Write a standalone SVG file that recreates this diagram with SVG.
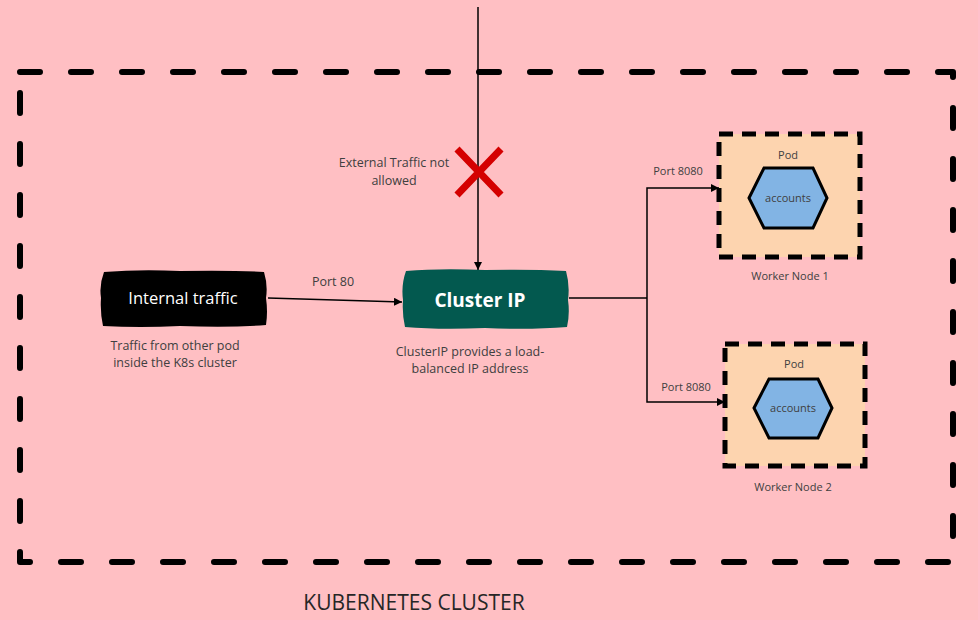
<svg xmlns="http://www.w3.org/2000/svg" width="978" height="620" viewBox="0 0 978 620">
  <defs>
    <style>
      .t{font-family:"Open Sans","Liberation Sans",sans-serif;fill:#404040;text-anchor:middle}
      .s13{font-size:12.5px}
      .s11{font-size:11px}
      .line{stroke:#000;stroke-width:1.5;fill:none}
      .wk{fill:#FDD4AF;stroke:#000;stroke-width:5;stroke-dasharray:14 9}
      .hex{fill:#82B4E4;stroke:#000;stroke-width:3;stroke-linejoin:miter}
    </style>
    <marker id="ah" viewBox="0 0 10 10" refX="10" refY="5" markerWidth="8" markerHeight="8" markerUnits="userSpaceOnUse" orient="auto">
      <path d="M0,0 L10,5 L0,10 z" fill="#000"/>
    </marker>
  </defs>
  <rect x="0" y="0" width="978" height="620" fill="#FFBFC3"/>

  <g id="cluster">
    <rect x="20" y="72" width="933" height="490" fill="none" stroke="#000" stroke-width="6" stroke-linecap="round" stroke-linejoin="round" stroke-dasharray="20 31"/>
    <text class="t" x="414" y="610" style="font-size:21px;fill:#262626">KUBERNETES CLUSTER</text>
  </g>

  <g id="connectors">
    <line class="line" x1="478" y1="7" x2="478" y2="270" marker-end="url(#ah)"/>
    <line class="line" x1="268" y1="298" x2="402" y2="302" marker-end="url(#ah)"/>
    <polyline class="line" points="569,298 647,298"/>
    <polyline class="line" points="647,298 647,188 719,188" marker-end="url(#ah)"/>
    <polyline class="line" points="647,298 647,402 725,402" marker-end="url(#ah)"/>
    <text class="t s13" x="333" y="286">Port 80</text>
    <text class="t s11" x="678" y="175">Port 8080</text>
    <text class="t s11" x="686" y="391">Port 8080</text>
  </g>

  <g id="blocked">
    <path d="M457,149 L501,195 M501,149 L457,195" stroke="#D40000" stroke-width="7" fill="none"/>
    <text class="t s13" x="394" y="167">External Traffic not</text>
    <text class="t s13" x="394" y="185">allowed</text>
  </g>

  <g id="internal">
    <path d="M104,272 Q140,269 180,271 Q230,270 264,272 Q268,285 266,298 Q268,312 266,325 Q230,328 180,326 Q140,328 103,326 Q100,312 101,298 Q99,285 104,272 z" fill="#000"/>
    <text x="183" y="304" style="font-family:'Open Sans','Liberation Sans',sans-serif;font-size:16.5px;fill:#fff;text-anchor:middle">Internal traffic</text>
    <text class="t s13" x="175" y="350">Traffic from other pod</text>
    <text class="t s13" x="175" y="367">inside the K8s cluster</text>
  </g>

  <g id="clusterip">
    <path d="M406,271 Q440,268 485,270 Q530,269 566,271 Q570,285 568,300 Q570,314 567,327 Q530,330 485,328 Q440,330 405,327 Q402,314 403,300 Q401,285 406,271 z" fill="#03594F"/>
    <text x="480" y="307" style="font-family:'Open Sans','Liberation Sans',sans-serif;font-size:19px;font-weight:bold;fill:#fff;text-anchor:middle">Cluster IP</text>
    <text class="t s13" x="470" y="356">ClusterIP provides a load-</text>
    <text class="t s13" x="470" y="373">balanced IP address</text>
  </g>

  <g id="worker1">
    <rect class="wk" x="719" y="134" width="141" height="123"/>
    <text class="t s11" x="788" y="159">Pod</text>
    <polygon class="hex" points="749,198 764,168 813,168 827,198 813,228 764,228"/>
    <text class="t s11" x="788" y="202">accounts</text>
    <text class="t s11" x="790" y="280">Worker Node 1</text>
  </g>

  <g id="worker2">
    <rect class="wk" x="725" y="344" width="140" height="122"/>
    <text class="t s11" x="794" y="368">Pod</text>
    <polygon class="hex" points="754,408 769,379 818,379 832,408 818,438 769,438"/>
    <text class="t s11" x="793" y="412">accounts</text>
    <text class="t s11" x="793" y="491">Worker Node 2</text>
  </g>
</svg>
